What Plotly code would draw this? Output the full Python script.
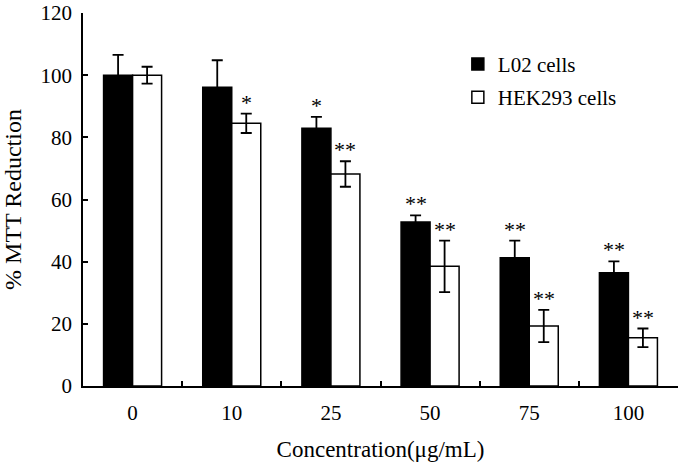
import plotly.graph_objects as go

categories = ["0", "10", "25", "50", "75", "100"]
l02_mean = [100.0, 96.1, 82.9, 52.8, 41.3, 36.4]
l02_sd = [6.5, 8.7, 3.7, 2.1, 5.5, 3.7]
hek_mean = [100.0, 84.5, 68.2, 38.5, 19.3, 15.5]
hek_sd = [2.7, 3.1, 4.1, 8.3, 5.2, 3.0]
l02_sig = ["", "", "*", "**", "**", "**"]
hek_sig = ["", "*", "**", "**", "**", "**"]

FONT = "Liberation Serif"
BARGAP = 0.415
half = (1 - BARGAP) / 4.0

fig = go.Figure()
fig.add_trace(go.Bar(
    x=categories, y=l02_mean, name="L02 cells", legendgroup="a",
    marker=dict(color="black", line=dict(color="black", width=1.5)),
    error_y=dict(type="data", array=l02_sd, visible=True, color="black",
                 thickness=1.8, width=5.5),
))
fig.add_trace(go.Bar(
    x=categories, y=hek_mean, name="HEK293 cells", legendgroup="b",
    marker=dict(color="white", line=dict(color="black", width=1.5)),
    error_y=dict(type="data", array=hek_sd, visible=True, color="black",
                 thickness=1.8, width=5.5),
))

for i in range(len(categories)):
    for mean, sd, sig, off in ((l02_mean, l02_sd, l02_sig, -half),
                               (hek_mean, hek_sd, hek_sig, half)):
        if sig[i]:
            fig.add_annotation(x=i + off, y=mean[i] + sd[i], text=sig[i],
                               showarrow=False, yanchor="bottom", yshift=-3,
                               font=dict(family=FONT, size=22, color="black"))

fig.update_layout(
    width=685, height=470,
    margin=dict(l=83, r=7, t=13, b=84),
    paper_bgcolor="white", plot_bgcolor="white",
    barmode="group", bargap=BARGAP, bargroupgap=0,
    font=dict(family=FONT, size=21, color="black"),
    showlegend=True,
    legend=dict(x=0.63, y=0.9175, xanchor="left", yanchor="top",
                traceorder="grouped", tracegroupgap=3,
                font=dict(family=FONT, size=21, color="black"),
                bgcolor="rgba(0,0,0,0)", itemwidth=30),
    xaxis=dict(
        type="category", tickson="boundaries", ticks="inside", ticklen=5,
        tickwidth=1.5, tickcolor="black", showline=True, linecolor="black",
        linewidth=1.5, showgrid=False, zeroline=False, automargin=False,
        ticklabelstandoff=7,
        title=dict(text="Concentration(μg/mL)", font=dict(family=FONT, size=23),
                   standoff=17),
        tickfont=dict(family=FONT, size=21),
    ),
    yaxis=dict(
        range=[0, 120], tickvals=[0, 20, 40, 60, 80, 100, 120],
        ticks="inside", ticklen=5, tickwidth=1.5, tickcolor="black",
        showline=True, linecolor="black", linewidth=1.5, showgrid=False,
        zeroline=False, automargin=False, ticklabelstandoff=5,
        ticklabeloverflow="allow",
        title=dict(text="% MTT Reduction", font=dict(family=FONT, size=24),
                   standoff=16),
        tickfont=dict(family=FONT, size=21),
    ),
)

# remove the browser's default 8px body margin so the figure fills the window
fig.write_html("out.html",
               config={"displayModeBar": False},
               post_script="document.body.style.margin='0';"
                           "document.body.style.overflow='hidden';")
